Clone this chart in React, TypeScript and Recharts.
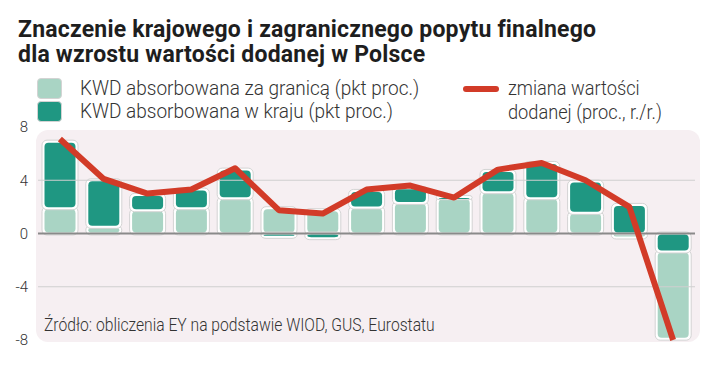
import { ComposedChart, Bar, Line, XAxis, YAxis, ReferenceLine } from 'recharts';

const periods = ['1', '2', '3', '4', '5', '6', '7', '8', '9', '10', '11', '12', '13', '14', '15'];
// KWD absorbowana za granicą (pkt proc.)
const foreign = [1.9, 0.5, 1.75, 1.9, 2.65, 1.9, 1.75, 1.95, 2.3, 2.65, 3.1, 2.65, 1.55, -0.3, -6.55];
// KWD absorbowana w kraju (pkt proc.)
const domestic = [5.0, 3.5, 1.15, 1.4, 2.15, -0.25, -0.35, 1.25, 1.1, 0.1, 1.6, 2.65, 2.35, 2.15, -1.35];
// zmiana wartości dodanej (proc., r./r.)
const change = [7.1, 4.1, 3.0, 3.3, 4.9, 1.75, 1.5, 3.3, 3.6, 2.7, 4.8, 5.3, 4.0, 2.0, -8.0];
const yTicks = [8, 4, 0, -4, -8];

const LIGHT = '#a9d4c4';
const DARK = '#1f9782';
const RED = '#d23b28';
const FONT = 'Roboto, sans-serif';

// positives stack foreign first, negatives stack domestic first
const data = periods.map((p, i) => {
  const f = foreign[i];
  const d = domestic[i];
  let pos = 0;
  let neg = 0;
  let lightRange: number[] = [0, 0];
  let darkRange: number[] = [0, 0];
  if (f >= 0) { lightRange = [0, f]; pos = f; }
  if (d >= 0) { darkRange = [pos, pos + d]; }
  if (d < 0) { darkRange = [d, 0]; neg = d; }
  if (f < 0) { lightRange = [neg + f, neg]; }
  return { period: p, lightRange, darkRange, change: change[i] };
});

const Segment = (props: any) => {
  const { x, y, width, height, fill } = props;
  const top = height < 0 ? y + height : y;
  const h = Math.abs(height);
  if (!h || h < 0.5) return null;
  return (
    <g>
      <rect x={x - 2} y={top - 1.5} width={width + 4} height={h + 3} rx={5} fill="#fff" stroke="#d3d3d3" strokeWidth={1} />
      <rect x={x + 0.5} y={top + 1} width={width - 1} height={Math.max(h - 2, 1)} rx={4} fill={fill} />
    </g>
  );
};

const squeeze = (k: number): React.CSSProperties => ({ transform: `scaleX(${k})`, transformOrigin: 'left top', whiteSpace: 'nowrap' });

export default function App() {
  const titleStyle: React.CSSProperties = { position: 'absolute', left: 18, fontWeight: 700, fontSize: 23, letterSpacing: 0.2, lineHeight: '24px', color: '#1e1e1e', whiteSpace: 'nowrap' };
  return (
    <div style={{ position: 'absolute', left: 0, top: 0, width: 721, height: 392, background: '#fff', fontFamily: FONT, color: '#222', overflow: 'hidden' }}>
      <div style={{ ...titleStyle, top: 18 }}>Znaczenie krajowego i zagranicznego popytu finalnego</div>
      <div style={{ ...titleStyle, top: 43 }}>dla wzrostu wartości dodanej w Polsce</div>

      <div style={{ position: 'absolute', left: 37, top: 78, width: 25, height: 21, background: LIGHT, borderRadius: 4, border: '1px solid #d3d3d3', boxSizing: 'border-box' }} />
      <div style={{ position: 'absolute', left: 37, top: 101, width: 25, height: 21, background: DARK, borderRadius: 4, border: '1px solid #d3d3d3', boxSizing: 'border-box' }} />
      <div style={{ position: 'absolute', left: 80, top: 77, fontSize: 20, lineHeight: '23px', fontWeight: 300, color: '#333', ...squeeze(0.95) }}>
        KWD absorbowana za granicą (pkt proc.)<br />KWD absorbowana w kraju (pkt proc.)
      </div>
      <div style={{ position: 'absolute', left: 463, top: 86, width: 36, height: 6, background: RED, borderRadius: 3 }} />
      <div style={{ position: 'absolute', left: 508, top: 76, fontSize: 20, lineHeight: '24px', fontWeight: 300, color: '#333', ...squeeze(0.91) }}>
        zmiana wartości<br />dodanej (proc., r./r.)
      </div>

      <div style={{ position: 'absolute', left: 36, top: 130, width: 664, height: 212, background: '#f6eff2', borderRadius: 12 }} />

      <div style={{ position: 'absolute', left: 0, top: 0 }}>
        <ComposedChart width={721} height={392} data={data} margin={{ top: 127, right: 26, bottom: 52, left: 8 }} barGap={-32}>
          <XAxis dataKey="period" hide />
          <YAxis
            width={30}
            domain={[-8, 8]}
            ticks={yTicks}
            interval={0}
            axisLine={false}
            tickLine={false}
            tickSize={0}
            tickMargin={10}
            tick={{ fontSize: 15, fill: '#333', fontFamily: FONT, fontWeight: 300 }}
          />
          <ReferenceLine y={4} stroke="#cfcfcf" strokeWidth={1} />
          <ReferenceLine y={-4} stroke="#cfcfcf" strokeWidth={1} />
          <ReferenceLine y={0} stroke="#8a8a8a" strokeWidth={2} />
          <Bar dataKey="lightRange" barSize={32} fill={LIGHT} shape={Segment} isAnimationActive={false} />
          <Bar dataKey="darkRange" barSize={32} fill={DARK} shape={Segment} isAnimationActive={false} />
          <Line dataKey="change" type="linear" stroke={RED} strokeWidth={6} strokeLinejoin="round" strokeLinecap="butt" dot={false} activeDot={false} isAnimationActive={false} />
        </ComposedChart>
      </div>

      <div style={{ position: 'absolute', left: 44, top: 314, fontSize: 18, lineHeight: '22px', fontWeight: 300, color: '#333', ...squeeze(0.87) }}>
        Źródło: obliczenia EY na podstawie WIOD, GUS, Eurostatu
      </div>
    </div>
  );
}
